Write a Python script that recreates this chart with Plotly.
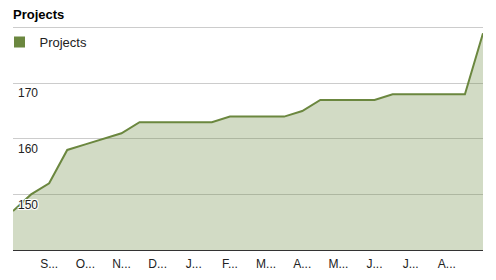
import plotly.graph_objects as go

# Data (semi-monthly samples)
x_index = list(range(27))
projects = [147, 150, 152, 158, 159, 160, 161, 163, 163, 163, 163, 163, 164, 164,
            164, 164, 165, 167, 167, 167, 167, 168, 168, 168, 168, 168, 179]
tick_positions = [2, 4, 6, 8, 10, 12, 14, 16, 18, 20, 22, 24]
tick_labels = ["S...", "O...", "N...", "D...", "J...", "F...",
               "M...", "A...", "M...", "J...", "J...", "A..."]
y_ticks = [150, 160, 170, 180]
y_tick_text = ["150", "160", "170", ""]

LINE = "#6b873f"
FILL = "rgba(107,135,63,0.3)"
FONT = "Arial, Liberation Sans, sans-serif"
halo = "-1px -1px 0 #fff, 1px -1px 0 #fff, -1px 1px 0 #fff, 1px 1px 0 #fff, 0 0 2px #fff"

fig = go.Figure()
fig.add_trace(go.Scatter(
    x=x_index, y=projects, mode="lines", fill="tozeroy",
    line=dict(color=LINE, width=2), fillcolor=FILL,
    showlegend=False, hoverinfo="skip", name="Projects"))
fig.add_trace(go.Scatter(
    x=[None], y=[None], mode="markers", name="Projects",
    marker=dict(symbol="square", size=11, color=LINE), showlegend=True))

fig.update_layout(
    width=496, height=280,
    margin=dict(l=13, r=13, t=26, b=30, autoexpand=False),
    paper_bgcolor="white", plot_bgcolor="white",
    font=dict(family=FONT, size=12, color="#222"),
    title=dict(text="<b>Projects</b>", x=13/496, xref="container", xanchor="left",
               y=1-14.5/280, yref="container", yanchor="middle",
               font=dict(family=FONT, size=13, color="#000")),
    showlegend=True,
    legend=dict(x=-13.5/470, y=1 - 1/224, xref="paper", yref="paper", xanchor="left", yanchor="top",
                bgcolor="rgba(0,0,0,0)", font=dict(family=FONT, size=13, color="#222"),
                itemwidth=30, borderwidth=0),
    xaxis=dict(range=[0, 26], tickvals=tick_positions, ticktext=tick_labels,
               showgrid=False, zeroline=False, showline=True, linecolor="#333", linewidth=1,
               ticks="", ticklabelstandoff=3,
               tickfont=dict(family=FONT, size=12, color="#222"),
               fixedrange=True),
    yaxis=dict(range=[140, 180.3], tickvals=y_ticks, ticktext=y_tick_text,
               showgrid=True, gridcolor="#cccccc", gridwidth=1, zeroline=False,
               showline=False, ticks="", ticklabelposition="inside",
               ticklabelshift=10, ticklabelstandoff=2,
               tickfont=dict(family=FONT, size=12, color="#222", shadow=halo),
               fixedrange=True),
)

fig.write_html("out.html")
